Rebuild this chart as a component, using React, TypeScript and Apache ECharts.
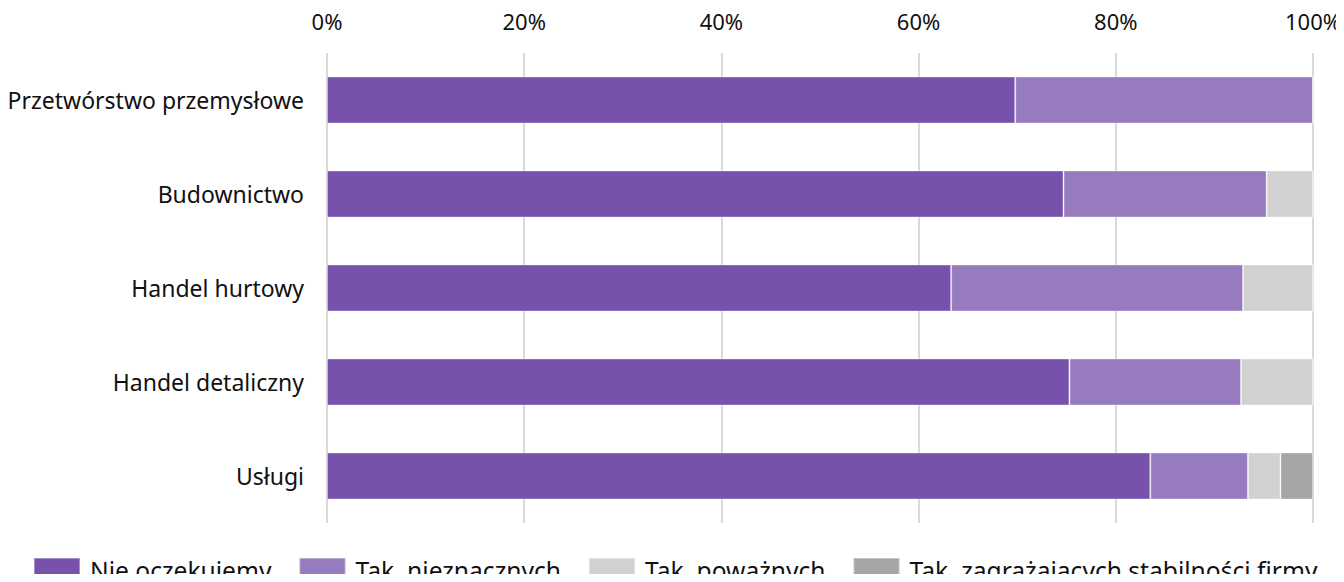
import React, { useEffect, useRef } from "react";
import * as echarts from "echarts";

const categories = [
  "Przetwórstwo przemysłowe",
  "Budownictwo",
  "Handel hurtowy",
  "Handel detaliczny",
  "Usługi",
];
const seriesNames = [
  "Nie oczekujemy",
  "Tak, nieznacznych",
  "Tak, poważnych",
  "Tak, zagrażających stabilności firmy",
];
const nieOczekujemy = [69.8, 74.7, 63.3, 75.3, 83.5];
const takNieznacznych = [30.2, 20.6, 29.6, 17.4, 9.9];
const takPowaznych = [0, 4.7, 7.1, 7.3, 3.3];
const takZagrazajacych = [0, 0, 0, 0, 3.3];
const colors = ["#7652AD", "#967BBF", "#D1D1D1", "#A5A5A5"];

const FONT = "Noto Sans";

export default function App() {
  const ref = useRef<HTMLDivElement>(null);
  useEffect(() => {
    if (!ref.current) return;
    const chart = echarts.init(ref.current, undefined, { renderer: "svg" });
    const values = [nieOczekujemy, takNieznacznych, takPowaznych, takZagrazajacych];
    chart.setOption({
      animation: false,
      textStyle: { fontFamily: FONT },
      grid: { left: 327, right: 29, top: 53, bottom: 59, containLabel: false },
      legend: {
        left: 33,
        top: 557,
        padding: 0,
        itemWidth: 46,
        itemHeight: 24,
        itemGap: 27,
        icon: "rect",
        textStyle: { fontFamily: FONT, fontSize: 24.6, color: "#111", padding: [0, 0, 0, 5] },
        data: seriesNames,
      },
      xAxis: {
        type: "value",
        position: "top",
        min: 0,
        max: 100,
        interval: 20,
        axisLine: { show: false },
        axisTick: { show: false },
        axisLabel: {
          formatter: "{value}%",
          fontFamily: FONT,
          fontSize: 22,
          color: "#111",
          margin: 21,
        },
        splitLine: { lineStyle: { color: "#D9D9D9", width: 2 } },
      },
      yAxis: {
        type: "category",
        inverse: true,
        data: categories,
        axisLine: { show: false },
        axisTick: { show: false },
        axisLabel: { fontFamily: FONT, fontSize: 23, color: "#111", margin: 23 },
      },
      series: seriesNames.map((name, i) => ({
        name,
        type: "bar",
        stack: "total",
        barWidth: "50%",
        data: values[i],
        itemStyle: {
          color: colors[i],
          borderColor: "rgba(255,255,255,0.35)",
          borderWidth: 1,
        },
      })),
    });
    return () => chart.dispose();
  }, []);
  return <div ref={ref} style={{ width: 1344, height: 582, margin: -8 }} />;
}
